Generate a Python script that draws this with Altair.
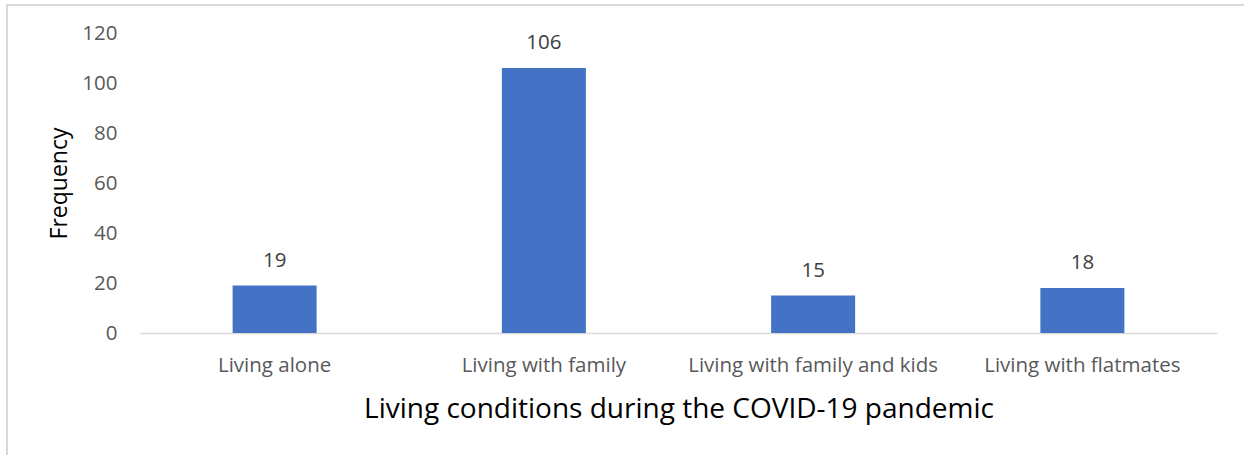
import altair as alt
import pandas as pd

# Living arrangements and how many respondents reported each
categories = ["Living alone", "Living with family", "Living with family and kids", "Living with flatmates"]
frequency = [19, 106, 15, 18]
y_ticks = [0, 20, 40, 60, 80, 100, 120]

df = pd.DataFrame({"condition": categories, "frequency": frequency})

FONT = "Open Sans"

x_enc = alt.X(
    "condition:N",
    sort=categories,
    scale=alt.Scale(paddingInner=0.688, paddingOuter=0.344),
    axis=alt.Axis(
        title="Living conditions during the COVID-19 pandemic",
        labelAngle=0,
        labelFont=FONT,
        labelFontSize=20.5,
        labelColor="#595959",
        labelPadding=22,
        labelLimit=0,
        ticks=False,
        domainColor="#d9d9d9",
        domainWidth=1.5,
        titleFont=FONT,
        titleFontSize=28,
        titleFontWeight="normal",
        titleColor="#000000",
        titlePadding=20,
    ),
)

y_enc = alt.Y(
    "frequency:Q",
    scale=alt.Scale(domain=[0, 120]),
    axis=alt.Axis(
        values=y_ticks,
        title="Frequency",
        labelFont=FONT,
        labelFontSize=20.5,
        labelColor="#595959",
        labelPadding=23,
        ticks=False,
        domain=False,
        grid=False,
        titleFont=FONT,
        titleFontSize=23,
        titleFontWeight="normal",
        titleColor="#000000",
        titlePadding=10,
    ),
)

bars = alt.Chart(df).mark_bar(color="#4472c4").encode(x=x_enc, y=y_enc)

labels = alt.Chart(df).mark_text(
    font=FONT, fontSize=20.5, color="#404040", baseline="middle", dy=-25
).encode(x=alt.X("condition:N", sort=categories), y="frequency:Q", text="frequency:Q")

# light frame around the whole chart area
frame = alt.Chart(df).mark_rect(
    fill=None, stroke="#d9d9d9", strokeWidth=1.5
).encode(
    x=alt.value(-133), x2=alt.value(1130), y=alt.value(-28), y2=alt.value(440)
)

chart = alt.layer(frame, bars, labels).properties(
    width=1077,
    height=300,
    background="white",
    autosize=alt.AutoSizeParams(type="none"),
    padding={"left": 140, "top": 33, "right": 27, "bottom": 122},
).configure_view(strokeWidth=0, stroke="transparent")

chart.save("out.html", embed_options={"renderer": "svg", "actions": False})
